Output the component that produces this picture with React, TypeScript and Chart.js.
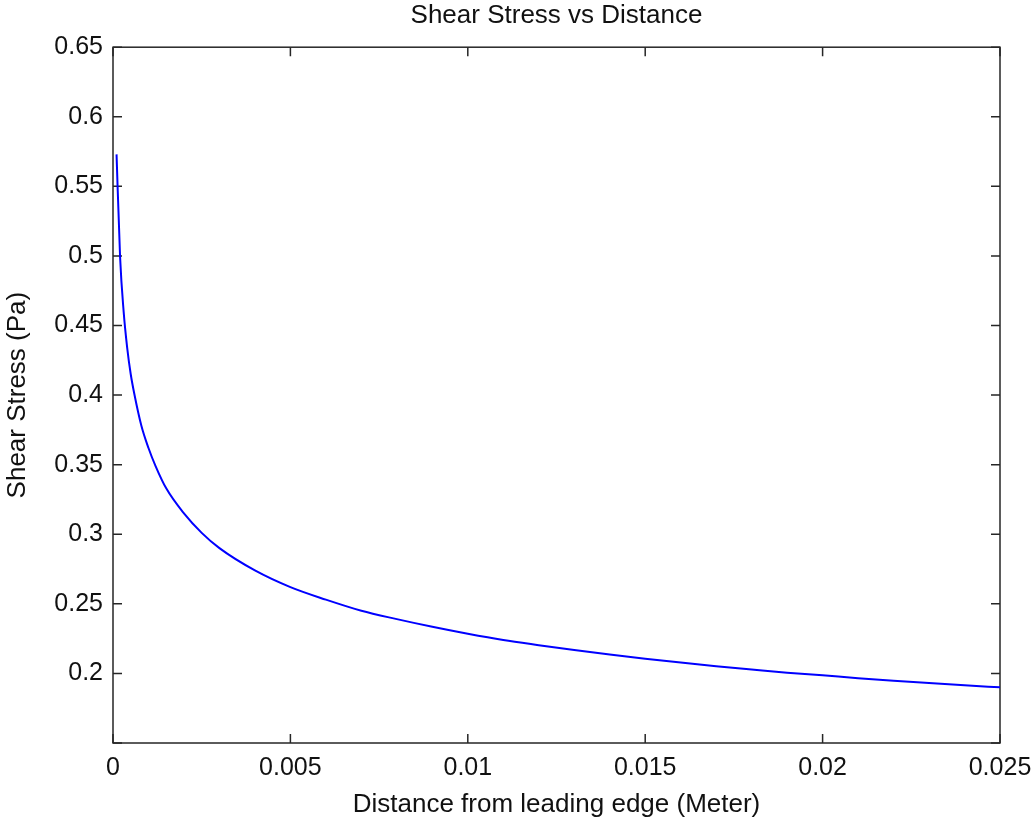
import React, { useEffect, useRef } from "react";
import { Chart, registerables } from "chart.js";

Chart.register(...registerables);

const chartTitle = "Shear Stress vs Distance";
const xAxisLabel = "Distance from leading edge (Meter)";
const yAxisLabel = "Shear Stress (Pa)";

// Distance from leading edge (m)
const distance = [
  0.0001, 0.0002, 0.0003, 0.0004, 0.0005, 0.0006, 0.0008, 0.001, 0.0012, 0.0015,
  0.002, 0.0025, 0.003, 0.004, 0.005, 0.006, 0.007, 0.008, 0.009, 0.01,
  0.011, 0.012, 0.013, 0.014, 0.015, 0.016, 0.017, 0.018, 0.019, 0.02,
  0.021, 0.022, 0.023, 0.024, 0.025,
];

// Shear stress (Pa)
const shearStress = [
  0.573, 0.499, 0.46, 0.434, 0.415, 0.401, 0.378, 0.362, 0.349, 0.333,
  0.315, 0.301, 0.29, 0.274, 0.262, 0.253, 0.245, 0.239, 0.2335, 0.2285,
  0.224, 0.2203, 0.2168, 0.2136, 0.2106, 0.2078, 0.2052, 0.2028, 0.2005, 0.1986,
  0.1966, 0.1948, 0.1931, 0.1915, 0.19,
];

const xTicks = [0, 0.005, 0.01, 0.015, 0.02, 0.025];
const yTicks = [0.15, 0.2, 0.25, 0.3, 0.35, 0.4, 0.45, 0.5, 0.55, 0.6, 0.65];
const yTickLabels = ["", "0.2", "0.25", "0.3", "0.35", "0.4", "0.45", "0.5", "0.55", "0.6", "0.65"];
const xTickLabels = ["0", "0.005", "0.01", "0.015", "0.02", "0.025"];

const FONT = "'Liberation Sans', Arial, Helvetica, sans-serif";
const AXIS_COLOR = "#262626";
const TEXT_COLOR = "#111";

const boxPlugin = {
  id: "matlabBox",
  beforeDatasetsDraw(chart: any) {
    const { ctx, chartArea, scales } = chart;
    const { left, right, top, bottom } = chartArea;
    const x = scales.x;
    const y = scales.y;
    const L = 9;
    ctx.save();
    ctx.strokeStyle = AXIS_COLOR;
    ctx.lineWidth = 1.5;
    ctx.strokeRect(left, top, right - left, bottom - top);
    ctx.beginPath();
    xTicks.forEach((v) => {
      const px = x.getPixelForValue(v);
      ctx.moveTo(px, bottom);
      ctx.lineTo(px, bottom - L);
      ctx.moveTo(px, top);
      ctx.lineTo(px, top + L);
    });
    yTicks.forEach((v) => {
      const py = y.getPixelForValue(v);
      ctx.moveTo(left, py);
      ctx.lineTo(left + L, py);
      ctx.moveTo(right, py);
      ctx.lineTo(right - L, py);
    });
    ctx.stroke();
    ctx.restore();
  },
};

export default function App() {
  const canvasRef = useRef<HTMLCanvasElement | null>(null);

  useEffect(() => {
    if (!canvasRef.current) return;
    const data = distance.map((d, i) => ({ x: d, y: shearStress[i] }));
    const chart = new Chart(canvasRef.current, {
      type: "line",
      data: {
        datasets: [
          {
            label: "Shear Stress",
            data,
            borderColor: "#0000FF",
            borderWidth: 2,
            pointRadius: 0,
            cubicInterpolationMode: "monotone",
            fill: false,
          },
        ],
      },
      options: {
        animation: false,
        responsive: true,
        maintainAspectRatio: false,
        layout: { padding: { left: 0, right: 34, top: 0, bottom: 0 } },
        plugins: {
          legend: { display: false },
          tooltip: { enabled: false },
          title: {
            display: true,
            fullSize: false,
            text: chartTitle,
            color: TEXT_COLOR,
            font: { family: FONT, size: 26, weight: "normal" },
            padding: { top: 0, bottom: 16 },
          },
        },
        scales: {
          x: {
            type: "linear",
            min: 0,
            max: 0.025,
            grid: { display: false, drawTicks: false },
            border: { display: false },
            afterBuildTicks: (scale: any) => {
              scale.ticks = xTicks.map((v) => ({ value: v }));
            },
            afterFit: (scale: any) => {
              scale.height = 81;
              scale.paddingLeft = 0;
              scale.paddingRight = 0;
            },
            ticks: {
              autoSkip: false,
              maxRotation: 0,
              padding: 10,
              color: TEXT_COLOR,
              font: { family: FONT, size: 25 },
              callback: (v: any) => {
                const i = xTicks.findIndex((t) => Math.abs(t - Number(v)) < 1e-9);
                return i >= 0 ? xTickLabels[i] : "";
              },
            },
            title: {
              display: true,
              text: xAxisLabel,
              color: TEXT_COLOR,
              font: { family: FONT, size: 26 },
              padding: { top: 0, bottom: 4 },
            },
          },
          y: {
            type: "linear",
            min: 0.15,
            max: 0.65,
            grid: { display: false, drawTicks: false },
            border: { display: false },
            afterBuildTicks: (scale: any) => {
              scale.ticks = yTicks.map((v) => ({ value: v }));
            },
            afterFit: (scale: any) => {
              scale.width = 113;
              scale.paddingTop = 0;
              scale.paddingBottom = 0;
            },
            ticks: {
              autoSkip: false,
              padding: 10,
              color: TEXT_COLOR,
              font: { family: FONT, size: 25 },
              callback: (v: any) => {
                const i = yTicks.findIndex((t) => Math.abs(t - Number(v)) < 1e-9);
                return i >= 0 ? yTickLabels[i] : "";
              },
            },
            title: {
              display: true,
              text: yAxisLabel,
              color: TEXT_COLOR,
              font: { family: FONT, size: 26 },
              padding: { top: 2, bottom: 0 },
            },
          },
        },
      },
      plugins: [boxPlugin],
    });
    return () => chart.destroy();
  }, []);

  return (
    <div
      style={{
        position: "fixed",
        left: 0,
        top: 0,
        width: 1034,
        height: 824,
        background: "#fff",
      }}
    >
      <canvas ref={canvasRef} />
    </div>
  );
}
